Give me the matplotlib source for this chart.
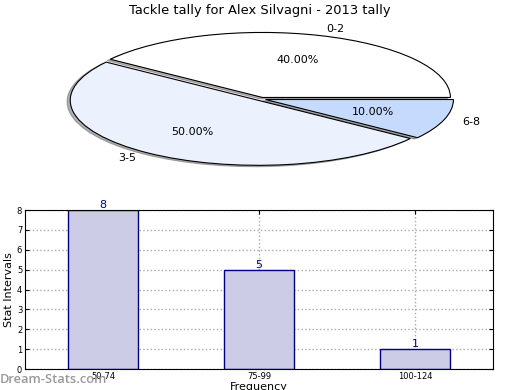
import matplotlib
matplotlib.use("Agg")
import matplotlib.pyplot as plt

title = "Tackle tally for Alex Silvagni - 2013 tally"
pie_labels = ["0-2", "3-5", "6-8"]
pie_values = [40, 50, 10]
pie_colors = ["#FFFFFF", "#EBF1FD", "#C6DAFE"]

bar_categories = ["50-74", "75-99", "100-124"]
bar_values = [8, 5, 1]

fig = plt.figure(figsize=(5.2, 3.9), dpi=100)

# Pie
axp = fig.add_axes([0.05, 0.5378, 0.9038, 0.4167])
wedges, texts, autotexts = axp.pie(
    pie_values, labels=pie_labels, colors=pie_colors, autopct="%.2f%%",
    explode=[0.025, 0.025, 0.025],
    shadow=dict(ox=-0.012, oy=-0.015, shade=0.6),
    startangle=0,
    wedgeprops=dict(edgecolor="black", linewidth=0.8),
    textprops=dict(fontsize=8))
axp.set_aspect("auto")
axp.set_xlim(-1.25, 1.25)
axp.set_ylim(-1.25, 1.25)
fig.text(0.5, 0.973, title, ha="center", va="center", fontsize=9.4)

# Bars
axb = fig.add_axes([0.048, 0.0538, 0.9, 0.4077])
x = list(range(len(bar_categories)))
axb.bar(x, bar_values, width=0.45, color="#CCCCE6", edgecolor="#000080", linewidth=1.0, zorder=2)
for xi, v in zip(x, bar_values):
    axb.text(xi, v, str(v), ha="center", va="bottom", color="#00008B", fontsize=8, zorder=3)
axb.set_xlim(-0.5, 2.5)
axb.set_ylim(0, 8)
axb.set_xticks(x)
axb.set_xticklabels(bar_categories)
axb.set_yticks(range(0, 9))
axb.tick_params(axis="both", labelsize=6, direction="in", length=3, top=True, right=True, pad=2)
axb.grid(True, linestyle=":", color="#AAAAAA", linewidth=1.0, zorder=0)
axb.set_axisbelow(True)
axb.set_ylabel("Stat Intervals", fontsize=8, labelpad=2)
axb.set_xlabel("Frequency", fontsize=8, labelpad=1)

fig.text(0.0, 0.026, "Dream-Stats.com", ha="left", va="center", fontsize=9.3,
         family=["Open Sans", "DejaVu Sans"], color="#999999", fontweight="semibold")

fig.savefig("out.png", dpi=100)
